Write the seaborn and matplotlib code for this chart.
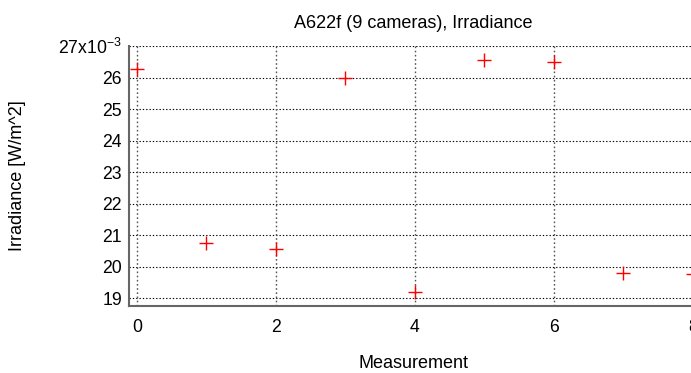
import matplotlib
matplotlib.use("Agg")
import matplotlib.pyplot as plt
from matplotlib.ticker import FuncFormatter
import seaborn as sns
import pandas as pd

# Irradiance per measurement, W/m^2
measurement = [0, 1, 2, 3, 4, 5, 6, 7, 8]
irradiance = [0.02628, 0.02075, 0.02056, 0.02597, 0.01920, 0.02656, 0.02648, 0.01979, 0.01978]
y_ticks = [0.019, 0.020, 0.021, 0.022, 0.023, 0.024, 0.025, 0.026, 0.027]
x_ticks = [0, 2, 4, 6, 8]

sns.set_theme(style="white")
plt.rcParams["font.family"] = ["Liberation Sans", "DejaVu Sans"]
plt.rcParams["text.color"] = "black"
plt.rcParams["axes.labelcolor"] = "black"

df = pd.DataFrame({"Measurement": measurement, "Irradiance": irradiance})

fig = plt.figure(figsize=(6.91, 3.73), dpi=100)
W, H = 691, 373
left, right, top, bottom = 129, 697, 46, 306
ax = fig.add_axes([left / W, 1 - bottom / H, (right - left) / W, (bottom - top) / H])

sns.scatterplot(data=df, x="Measurement", y="Irradiance", marker="+", color="red",
                s=110, linewidth=1.0, ax=ax, clip_on=False, zorder=5)

ax.set_xlim(-0.115, 8.06)
ax.set_ylim(0.01876, 0.027)
ax.set_xticks(x_ticks)
ax.set_yticks(y_ticks)


def fmt(v, pos):
    n = int(round(v * 1000))
    if n == 27:
        return r"27x10$^{\mathregular{-3}}$"
    return str(n)


ax.yaxis.set_major_formatter(FuncFormatter(fmt))
ax.tick_params(axis="both", direction="in", length=10, width=1, color="#333333",
               labelcolor="black", labelsize=12.7, pad=5)
ax.tick_params(axis="x", pad=9)

for v in y_ticks:
    ax.axhline(v, color="black", linestyle=(0, (1.2, 1.8)), linewidth=0.8, zorder=1)
for v in x_ticks:
    ax.axvline(v, color="#555555", linestyle=(0, (1.2, 1.8)), linewidth=1.0, zorder=1)

for side in ["top", "right"]:
    ax.spines[side].set_visible(False)
for side in ["left", "bottom"]:
    ax.spines[side].set_color("#666666")
    ax.spines[side].set_linewidth(1.5)

ax.set_title("A622f (9 cameras), Irradiance", fontsize=13, pad=13, color="black")
ax.set_xlabel("Measurement", fontsize=13, labelpad=14, color="black")
ax.set_ylabel("Irradiance [W/m^2]", fontsize=13, labelpad=23, color="black")

fig.savefig("out.png", dpi=100)
